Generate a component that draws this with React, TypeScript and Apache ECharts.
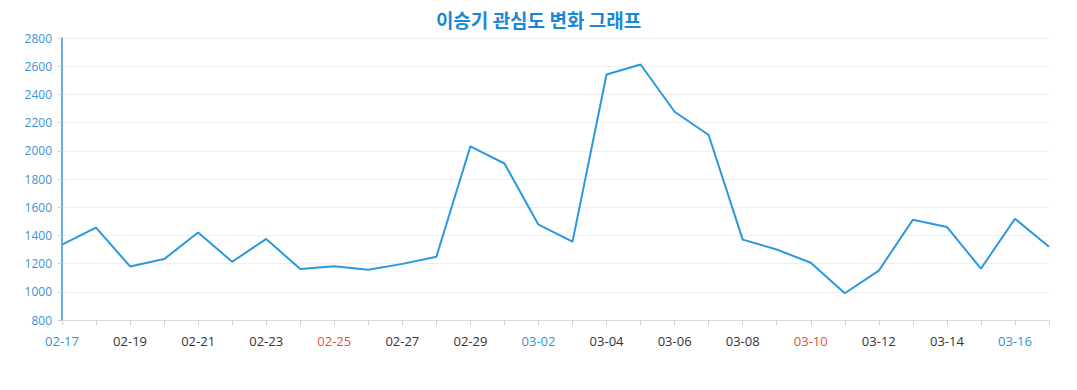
import React, { useEffect, useRef } from "react";
import * as echarts from "echarts";

const dates = [
  "02-17", "02-18", "02-19", "02-20", "02-21", "02-22", "02-23", "02-24", "02-25", "02-26",
  "02-27", "02-28", "02-29", "03-01", "03-02", "03-03", "03-04", "03-05", "03-06", "03-07",
  "03-08", "03-09", "03-10", "03-11", "03-12", "03-13", "03-14", "03-15", "03-16", "03-17",
];
const interest = [
  1335, 1455, 1180, 1232, 1420, 1213, 1375, 1161, 1182, 1157,
  1198, 1249, 2032, 1910, 1476, 1356, 2541, 2612, 2277, 2112,
  1370, 1300, 1206, 990, 1150, 1511, 1460, 1164, 1518, 1319,
];
const saturdays = ["02-17", "02-24", "03-02", "03-09", "03-16"];
const sundays = ["02-18", "02-25", "03-03", "03-10", "03-17"];

const FONT = "'Open Sans', 'Noto Sans CJK KR', sans-serif";

export default function App() {
  const ref = useRef<HTMLDivElement>(null);
  useEffect(() => {
    if (!ref.current) return;
    const chart = echarts.init(ref.current, undefined, { renderer: "svg" });
    chart.setOption({
      animation: false,
      title: {
        text: "이승기 관심도 변화 그래프",
        left: "center",
        top: 5,
        textStyle: {
          fontFamily: "'Noto Sans CJK KR', sans-serif",
          fontSize: 19,
          fontWeight: "bold",
          color: "#1a88d8",
        },
      },
      grid: { left: 62, right: 28, top: 38, bottom: 70, containLabel: false },
      xAxis: {
        type: "category",
        data: dates,
        boundaryGap: false,
        axisLine: { lineStyle: { color: "#dcdcdc", width: 1 } },
        axisTick: { show: true, interval: 0, length: 5, lineStyle: { color: "#d0d0d0" } },
        axisLabel: {
          interval: 1,
          margin: 14,
          fontFamily: FONT,
          fontSize: 13,
          color: (v: string) =>
            saturdays.includes(v) ? "#2e95d3" : sundays.includes(v) ? "#e0553a" : "#333333",
        },
        splitLine: { show: false },
      },
      yAxis: {
        type: "value",
        min: 800,
        max: 2800,
        interval: 200,
        axisLine: { show: true, lineStyle: { color: "#3a93d6", width: 1.5 } },
        axisTick: { show: true, length: 4, lineStyle: { color: "#cccccc" } },
        axisLabel: {
          margin: 10,
          fontFamily: FONT,
          fontSize: 12,
          color: "#3a93d6",
          formatter: (v: number) => String(v),
        },
        splitLine: { show: true, lineStyle: { color: "#eeeeee", width: 1 } },
      },
      series: [
        {
          type: "line",
          data: interest,
          symbol: "none",
          lineStyle: { color: "#2a98e0", width: 2 },
        },
      ],
    });
    return () => chart.dispose();
  }, []);
  return <div ref={ref} style={{ width: 1077, height: 390, margin: -8 }} />;
}
